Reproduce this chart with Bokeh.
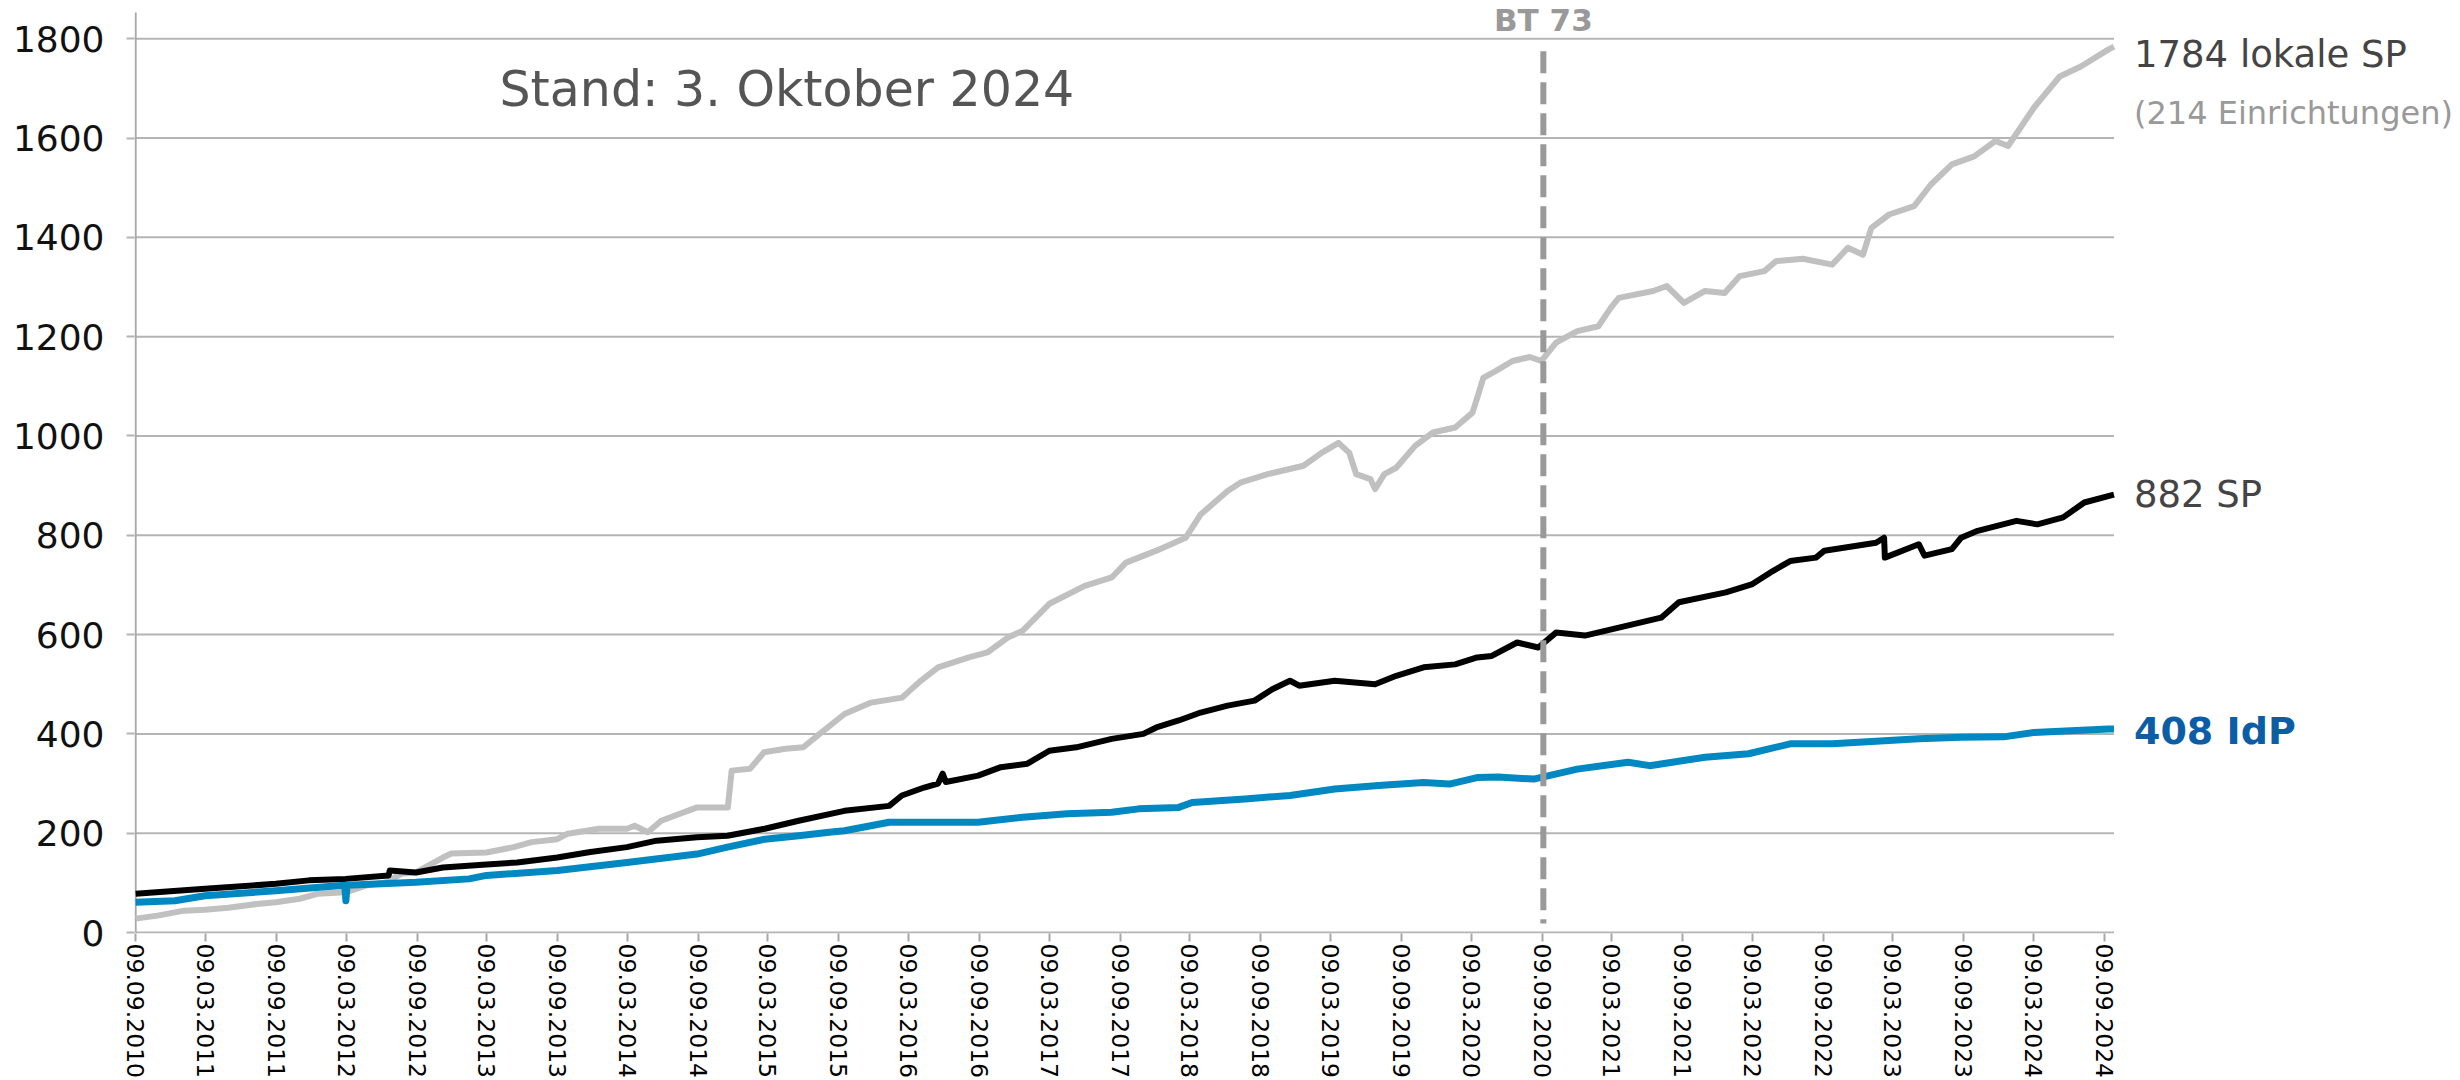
import pandas as pd
from bokeh.plotting import figure
from bokeh.models import Range1d, FixedTicker, DatetimeTickFormatter, Label
from bokeh.embed import file_html
from bokeh.resources import INLINE

FONT = "DejaVu Sans"

# ---------------- data ----------------
lokal_dates = ["2010-09-09", "2010-11-05", "2011-01-13", "2011-03-08", "2011-05-07", "2011-07-27",
               "2011-09-08", "2011-11-09", "2011-12-25", "2012-03-07", "2012-05-01", "2012-06-18",
               "2012-08-02", "2012-09-06", "2012-11-15", "2012-12-07", "2013-03-08", "2013-05-18",
               "2013-07-03", "2013-09-08", "2013-10-05", "2013-12-25", "2014-03-08", "2014-03-28",
               "2014-05-01", "2014-06-05", "2014-09-06", "2014-11-25", "2014-12-05", "2015-01-22",
               "2015-02-27", "2015-04-24", "2015-06-09", "2015-07-15", "2015-09-24", "2015-12-02",
               "2016-02-20", "2016-04-09", "2016-05-24", "2016-08-12", "2016-09-29", "2016-11-21",
               "2016-12-30", "2017-03-09", "2017-06-09", "2017-08-18", "2017-09-24", "2017-12-12",
               "2018-02-26", "2018-04-06", "2018-06-15", "2018-07-18", "2018-09-27", "2018-12-29",
               "2019-02-14", "2019-03-30", "2019-04-27", "2019-05-15", "2019-06-21", "2019-07-03",
               "2019-07-27", "2019-08-27", "2019-10-15", "2019-11-30", "2020-01-27", "2020-03-12",
               "2020-03-30", "2020-04-09", "2020-05-12", "2020-06-24", "2020-08-08", "2020-09-07",
               "2020-10-15", "2020-12-09", "2021-02-02", "2021-03-06", "2021-03-27", "2021-06-24",
               "2021-07-30", "2021-09-12", "2021-11-06", "2021-12-27", "2022-02-04", "2022-04-09",
               "2022-05-09", "2022-07-18", "2022-10-02", "2022-11-12", "2022-12-21", "2023-01-12",
               "2023-02-27", "2023-05-03", "2023-06-15", "2023-08-09", "2023-10-06", "2023-11-30",
               "2024-01-02", "2024-03-09", "2024-03-30", "2024-05-15", "2024-07-09", "2024-09-18",
               "2024-10-03"]
lokal_values = [28, 34, 44, 46, 50, 58,
                61, 68, 78, 81, 95, 101,
                119, 121, 151, 159, 161, 172,
                182, 188, 199, 209, 209, 215,
                202, 225, 252, 252, 326, 330,
                363, 370, 373, 396, 440, 463,
                473, 507, 534, 554, 564, 594,
                608, 662, 698, 715, 745, 769,
                795, 842, 889, 906, 923, 940,
                966, 986, 966, 923, 913, 893,
                923, 936, 980, 1007, 1017, 1047,
                1091, 1117, 1131, 1151, 1159, 1151,
                1188, 1211, 1221, 1258, 1278, 1292,
                1302, 1268, 1292, 1288, 1322, 1332,
                1352, 1357, 1345, 1379, 1365, 1419,
                1446, 1463, 1506, 1547, 1563, 1594,
                1584, 1661, 1681, 1724, 1744, 1778,
                1784]

sp_dates = ["2010-09-09", "2011-03-08", "2011-09-08", "2011-12-03", "2012-03-07", "2012-06-27",
            "2012-06-30", "2012-09-06", "2012-11-15", "2013-03-08", "2013-05-27", "2013-09-08",
            "2013-12-03", "2014-03-08", "2014-05-24", "2014-09-06", "2014-11-24", "2015-03-01",
            "2015-05-28", "2015-09-24", "2016-01-18", "2016-02-20", "2016-04-18", "2016-05-24",
            "2016-06-05", "2016-06-13", "2016-09-05", "2016-11-03", "2017-01-11", "2017-03-09",
            "2017-05-18", "2017-08-18", "2017-11-08", "2017-12-12", "2018-02-08", "2018-04-06",
            "2018-06-15", "2018-08-24", "2018-10-09", "2018-11-24", "2018-12-18", "2019-03-20",
            "2019-07-03", "2019-08-27", "2019-11-06", "2020-01-27", "2020-03-24", "2020-05-01",
            "2020-07-06", "2020-08-30", "2020-10-15", "2020-12-29", "2021-03-27", "2021-07-15",
            "2021-08-30", "2021-12-30", "2022-03-07", "2022-05-01", "2022-06-15", "2022-08-21",
            "2022-09-12", "2023-01-24", "2023-02-14", "2023-02-16", "2023-05-15", "2023-05-30",
            "2023-08-09", "2023-09-02", "2023-10-15", "2024-01-24", "2024-03-18", "2024-05-24",
            "2024-07-18", "2024-09-18", "2024-10-03"]
sp_values = [78, 88, 98, 105, 108, 115,
             125, 121, 131, 137, 141, 151,
             162, 172, 185, 192, 195, 209,
             225, 245, 255, 276, 292, 300,
             320, 303, 316, 333, 340, 366,
             373, 390, 400, 413, 427, 443,
             457, 467, 490, 507, 497, 507,
             500, 517, 534, 540, 554, 557,
             584, 574, 604, 598, 614, 634,
             665, 685, 701, 728, 748, 755,
             769, 785, 795, 755, 782, 759,
             772, 795, 809, 829, 822, 836,
             866, 879, 882]

idp_dates = ["2010-09-09", "2010-12-20", "2011-03-08", "2011-09-08", "2012-03-05", "2012-03-08",
             "2012-03-11", "2012-09-06", "2013-01-22", "2013-03-08", "2013-09-08", "2014-03-08",
             "2014-09-06", "2014-11-24", "2015-03-01", "2015-05-28", "2015-08-15", "2015-09-24",
             "2016-01-18", "2016-05-12", "2016-09-05", "2016-12-30", "2017-04-24", "2017-08-18",
             "2017-10-27", "2018-02-08", "2018-03-15", "2018-07-30", "2018-11-24", "2019-03-20",
             "2019-07-12", "2019-11-06", "2020-01-12", "2020-03-24", "2020-05-18", "2020-08-18",
             "2020-12-09", "2021-04-20", "2021-06-15", "2021-11-06", "2022-02-27", "2022-06-15",
             "2022-10-02", "2023-01-24", "2023-05-15", "2023-09-02", "2023-12-21", "2024-03-09",
             "2024-05-30", "2024-09-18", "2024-10-03"]
idp_values = [61, 64, 74, 84, 95, 64,
              95, 101, 108, 115, 125, 141,
              158, 172, 188, 195, 202, 205,
              222, 222, 222, 232, 239, 242,
              249, 252, 262, 269, 276, 289,
              296, 302, 299, 312, 313, 309,
              329, 343, 336, 353, 360, 380,
              380, 385, 390, 393, 394, 403,
              406, 410, 410]

tick_dates = ["2010-09-09", "2011-03-09", "2011-09-09", "2012-03-09", "2012-09-09", "2013-03-09",
              "2013-09-09", "2014-03-09", "2014-09-09", "2015-03-09", "2015-09-09", "2016-03-09",
              "2016-09-09", "2017-03-09", "2017-09-09", "2018-03-09", "2018-09-09", "2019-03-09",
              "2019-09-09", "2020-03-09", "2020-09-09", "2021-03-09", "2021-09-09", "2022-03-09",
              "2022-09-09", "2023-03-09", "2023-09-09", "2024-03-09", "2024-09-09"]
y_ticks = [0, 200, 400, 600, 800, 1000, 1200, 1400, 1600, 1800]

start_date = "2010-09-09"
stand_date = "2024-10-03"
bt73_date = "2020-09-12"
bt73_top, bt73_bottom = 1775, 18
axis_top = 1853

label_lokal = "1784 lokale SP"
label_einr = "(214 Einrichtungen)"
label_sp = "882 SP"
label_idp = "408 IdP"
title_text = "Stand: 3. Oktober 2024"

# ---------------- helpers ----------------
def ms(d):
    return pd.Timestamp(d).value / 1e6

DAY = 86400000.0
y_min, y_max = -2, 1877          # head-room above the 1800 line for the BT 73 label
x_lead_days = 3                  # tiny lead so the hand-drawn y-axis line is not clipped
x_pad_days = 900                 # room to the right of the data for the end labels

GRID = "#b4b4b4"
AXIS = "#a8a8a8"

# ---------------- figure ----------------
p = figure(frame_width=2326, frame_height=933, x_axis_type="datetime",
           output_backend="svg", toolbar_location=None,
           x_range=Range1d(ms(start_date) - x_lead_days * DAY, ms(stand_date) + x_pad_days * DAY),
           y_range=Range1d(y_min, y_max),
           min_border_left=134, min_border_right=0,
           min_border_top=0, min_border_bottom=145)
p.outline_line_color = None
p.background_fill_color = "white"
p.border_fill_color = "white"
p.xgrid.grid_line_color = None
p.ygrid.grid_line_color = None

# horizontal grid lines limited to the data span (the 0-line doubles as x-axis line)
n = len(y_ticks)
p.segment(x0=[pd.Timestamp(start_date)] * n, x1=[pd.Timestamp(stand_date)] * n,
          y0=y_ticks, y1=y_ticks, line_color=GRID, line_width=2)
# y-axis line
p.segment(x0=[pd.Timestamp(start_date)], x1=[pd.Timestamp(start_date)],
          y0=[0], y1=[axis_top], line_color=AXIS, line_width=2)

# y axis (ticks + labels)
p.yaxis.ticker = FixedTicker(ticks=y_ticks)
p.yaxis.axis_line_color = None
p.yaxis.major_tick_line_color = GRID
p.yaxis.major_tick_line_width = 2
p.yaxis.major_tick_out = 8
p.yaxis.major_tick_in = 0
p.yaxis.minor_tick_line_color = None
p.yaxis.major_label_text_font = FONT
p.yaxis.major_label_text_font_size = "36px"
p.yaxis.major_label_text_color = "#111111"
p.yaxis.major_label_standoff = 22

# x axis (ticks + labels)
p.xaxis.ticker = FixedTicker(ticks=[ms(d) for d in tick_dates])
fmt = "%d.%m.%Y"
p.xaxis.formatter = DatetimeTickFormatter(
    microseconds=fmt, milliseconds=fmt, seconds=fmt, minsec=fmt, minutes=fmt,
    hourmin=fmt, hours=fmt, days=fmt, months=fmt, years=fmt, context=None)
p.xaxis.major_label_orientation = "vertical"
p.xaxis.axis_line_color = None
p.xaxis.major_tick_line_color = AXIS
p.xaxis.major_tick_line_width = 2
p.xaxis.major_tick_out = 8
p.xaxis.major_tick_in = 0
p.xaxis.minor_tick_line_color = None
p.xaxis.major_label_text_font = FONT
p.xaxis.major_label_text_font_size = "23.5px"
p.xaxis.major_label_text_color = "#000000"
p.xaxis.major_label_standoff = 2

# series
p.line(pd.to_datetime(lokal_dates), lokal_values, line_color="#c0c0c0", line_width=6,
       line_join="round")
p.line(pd.to_datetime(sp_dates), sp_values, line_color="#000000", line_width=6,
       line_join="round")
p.line(pd.to_datetime(idp_dates), idp_values, line_color="#0088c2", line_width=7,
       line_join="round")

# BT 73 marker
p.line([pd.Timestamp(bt73_date)] * 2, [bt73_top, bt73_bottom], line_color="#999999",
       line_width=6, line_dash="22 9")
p.add_layout(Label(x=ms(bt73_date), y=1838, text="BT 73", text_font=FONT,
                   text_font_size="31px", text_font_style="bold", text_color="#999999",
                   text_align="center", text_baseline="middle"))

# title
p.add_layout(Label(x=ms("2013-04-11"), y=1698, text=title_text, text_font=FONT,
                   text_font_size="49px", text_color="#555555",
                   text_align="left", text_baseline="middle"))

# right-hand labels
lx = ms(stand_date) + 52 * DAY
p.add_layout(Label(x=lx, y=1768, text=label_lokal, text_font=FONT, text_font_size="37px",
                   text_color="#444444", text_baseline="middle"))
p.add_layout(Label(x=lx, y=1651, text=label_einr, text_font=FONT, text_font_size="32px",
                   text_color="#999999", text_baseline="middle"))
p.add_layout(Label(x=lx, y=882, text=label_sp, text_font=FONT, text_font_size="37px",
                   text_color="#444444", text_baseline="middle"))
p.add_layout(Label(x=lx, y=405, text=label_idp, text_font=FONT, text_font_size="38px",
                   text_font_style="bold", text_color="#0b5ea6", text_baseline="middle"))

open("out.html", "w").write(file_html(p, INLINE))
